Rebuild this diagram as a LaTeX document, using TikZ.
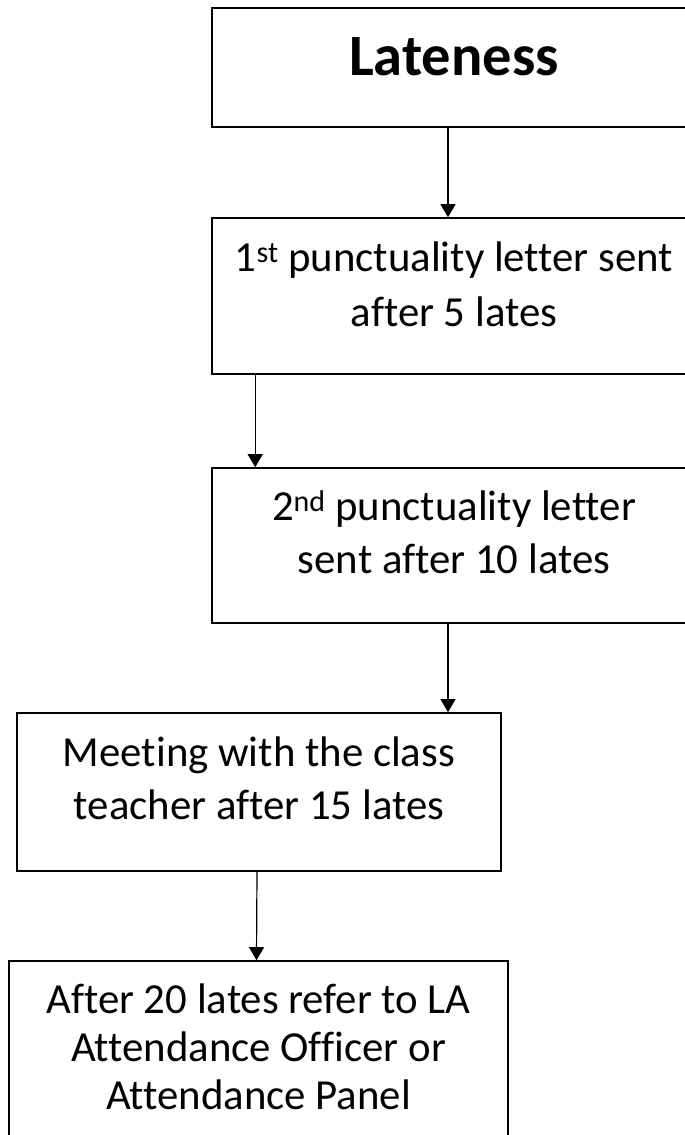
\documentclass[tikz,border=0pt]{standalone}
\usepackage{fontspec}
\setmainfont{Carlito}[Ligatures=CommonOff]
\usetikzlibrary{positioning,arrows.meta}

\tikzset{
  box/.style={draw, line width=1.6pt, minimum width=484pt, inner sep=0pt},
  txt/.style={align=center, inner sep=0pt},
  arr/.style={line width=1.2pt, -{Triangle[length=13pt,width=15pt]}}
}

\begin{document}
\begin{tikzpicture}[x=1pt, y=-1pt]
  \clip (0,0) rectangle (685,1135);
  \fill[white] (0,0) rectangle (685,1135);
  % boxes
  \node (late) [box, minimum height=119pt] at (454, 67.5) {};
  \node (first) [box, minimum height=156pt] at (454, 296) {};
  \node (second) [box, minimum height=155pt] at (454, 545.5) {};
  \node (meet) [box, minimum height=158pt] at (259, 792) {};
  \node (refer) [box, minimum width=499pt, minimum height=189pt] at (258.5, 1055.5) {};
  % texts
  \node (latetxt) [txt, font=\fontsize{58.5}{70}\selectfont\bfseries, below=30pt of late.north] {Lateness};
  \node (firsttxt) [txt, font=\fontsize{42.8}{55}\selectfont, below=24.5pt of first.north]
    {1\textsuperscript{st} punctuality letter sent\\after 5 lates};
  \node (secondtxt) [txt, font=\fontsize{42.8}{53}\selectfont, below=23pt of second.north]
    {2\textsuperscript{nd} punctuality letter\\sent after 10 lates};
  \node (meettxt) [txt, font=\fontsize{42.8}{53}\selectfont, below=24.5pt of meet.north]
    {Meeting with the class\\teacher after 15 lates};
  \node (refertxt) [txt, font=\fontsize{42.8}{48}\selectfont, below=23pt of refer.north]
    {After 20 lates refer to LA\\Attendance Officer or\\Attendance Panel};
  % arrows
  \draw[arr] ([xshift=-6pt]late.south) -- ([xshift=-6pt]first.north);
  \draw[arr] ([xshift=44pt]first.south west) -- ([xshift=44pt]second.north west);
  \draw[arr] ([xshift=-6pt]second.south) -- ([xshift=-6pt]second.south |- meet.north);
  \draw[arr] ([xshift=-2pt]meet.south) -- ([xshift=-2pt]refer.north);
\end{tikzpicture}
\end{document}
